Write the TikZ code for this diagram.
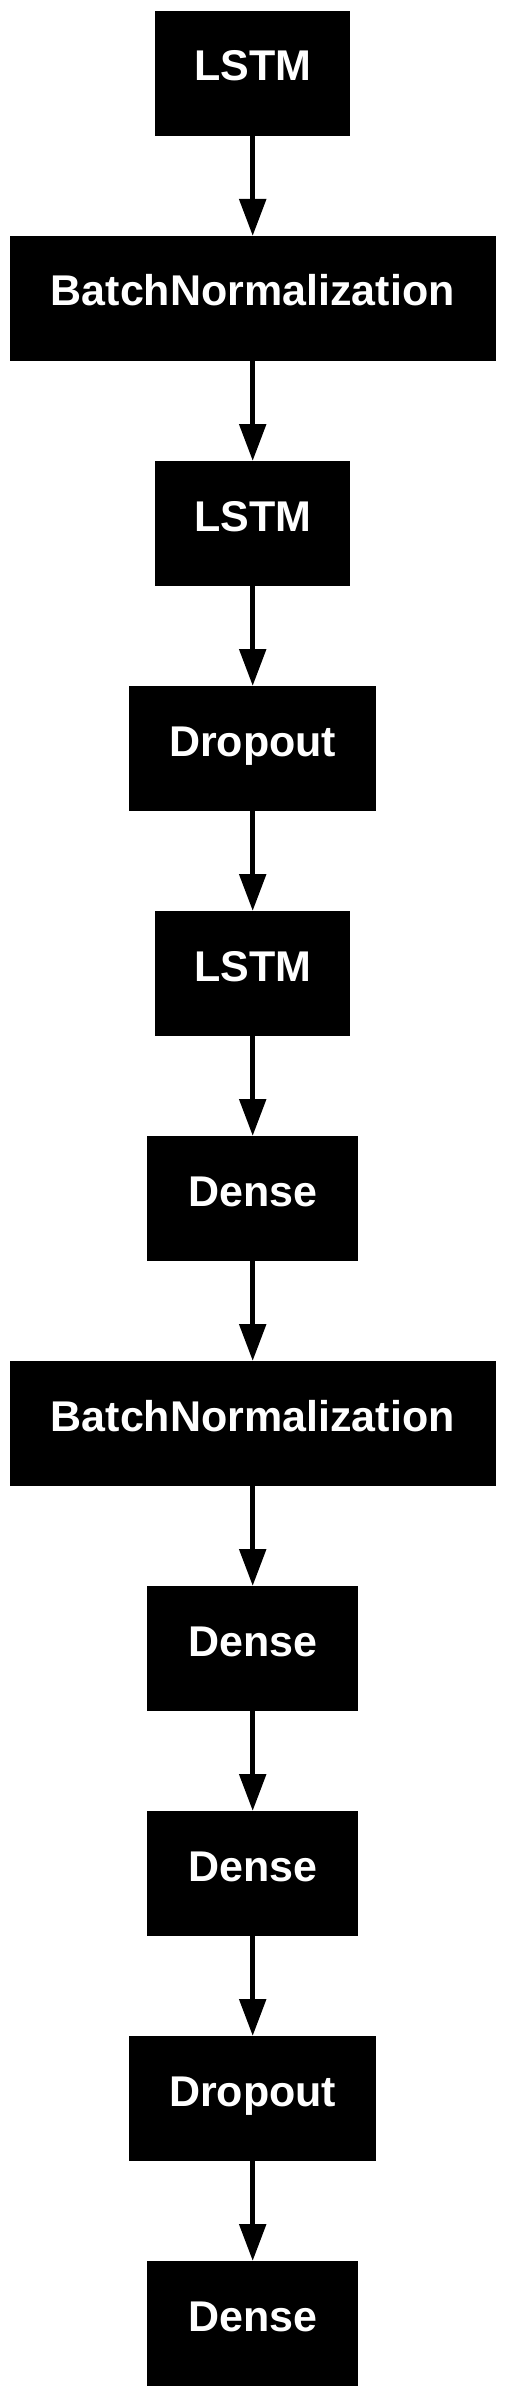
\documentclass[tikz,border=0pt]{standalone}
\usepackage{fontspec}
\setmainfont{Liberation Sans}
\usetikzlibrary{arrows.meta}
\tikzset{
  layerbox/.style={fill=black, draw=none, text=white, inner sep=0pt, outer sep=0pt,
    minimum height=125pt, text height=70pt, text depth=55pt,
    font=\fontsize{43}{50}\selectfont\bfseries},
  conn/.style={line width=5.5pt, -{Triangle[length=37pt,width=26pt]}}
}
\begin{document}
\begin{tikzpicture}[x=1pt,y=1pt]
\useasboundingbox (0,0) rectangle (506,-2397);
\node[layerbox, minimum width=195pt] (n1) at (252.7,-73.5) {LSTM};
\node[layerbox, minimum width=486pt] (n2) at (252.7,-298.5) {BatchNormalization};
\node[layerbox, minimum width=195pt] (n3) at (252.7,-523.5) {LSTM};
\node[layerbox, minimum width=247pt] (n4) at (252.7,-748.5) {Dropout};
\node[layerbox, minimum width=195pt] (n5) at (252.7,-973.5) {LSTM};
\node[layerbox, minimum width=211pt] (n6) at (252.7,-1198.5) {Dense};
\node[layerbox, minimum width=486pt] (n7) at (252.7,-1423.5) {BatchNormalization};
\node[layerbox, minimum width=211pt] (n8) at (252.7,-1648.5) {Dense};
\node[layerbox, minimum width=211pt] (n9) at (252.7,-1873.5) {Dense};
\node[layerbox, minimum width=247pt] (n10) at (252.7,-2098.5) {Dropout};
\node[layerbox, minimum width=211pt] (n11) at (252.7,-2323.5) {Dense};
\foreach \a/\b in {n1/n2,n2/n3,n3/n4,n4/n5,n5/n6,n6/n7,n7/n8,n8/n9,n9/n10,n10/n11}
  \draw[conn] (\a.south) -- (\b.north);
\end{tikzpicture}
\end{document}
